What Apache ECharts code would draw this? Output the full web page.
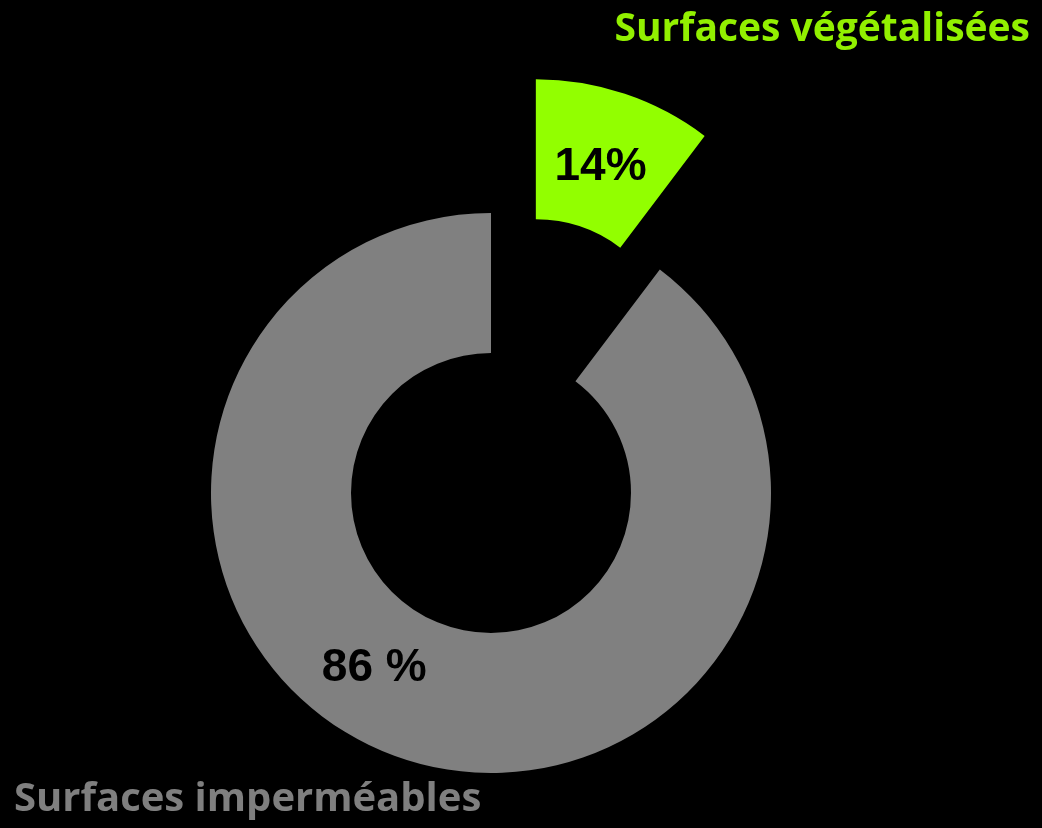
<!DOCTYPE html>
<html>
<head>
<meta charset="utf-8">
<script src="https://cdn.jsdelivr.net/npm/echarts@6/dist/echarts.min.js"></script>
<style>
  html, body { margin: 0; padding: 0; background: #000; }
  #chart { width: 1042px; height: 828px; }
</style>
</head>
<body>
<div id="chart"></div>
<script>
// slices as drawn (the green one is exploded out)
const categories = ['Surfaces végétalisées', 'Surfaces imperméables'];
const sliceValues = [10.3, 89.7];
const sliceLabels = ['14%', '86 %'];
const sliceColors = ['#92ff00', '#808080'];
const labelOffsets = [[-3, 10], [-49, -27]];

const chart = echarts.init(document.getElementById('chart'), null, { renderer: 'canvas' });

const labelFont = {
  fontFamily: '"Liberation Sans", Arial, sans-serif',
  fontWeight: 'bold',
  fontSize: 46,
  color: '#000'
};

const titleFont = {
  fontFamily: '"Open Sans", sans-serif',
  fontWeight: 'bold',
  fontSize: 39
};

chart.setOption({
  backgroundColor: '#000',
  animation: false,
  title: [
    {
      text: categories[0],
      right: 12,
      top: 10,
      padding: 0,
      textStyle: { ...titleFont, color: '#92f000' }
    },
    {
      text: categories[1],
      left: 14,
      bottom: 8,
      padding: 0,
      textStyle: { ...titleFont, fontSize: 40, color: '#7f7f7f' }
    }
  ],
  series: [
    {
      type: 'pie',
      center: [491, 493],
      radius: [140, 280],
      startAngle: 90,
      clockwise: true,
      selectedMode: 'single',
      selectedOffset: 141,
      emphasis: { disabled: true },
      labelLine: { show: false },
      data: categories.map((name, i) => ({
        name,
        value: sliceValues[i],
        selected: i === 0,
        itemStyle: { color: sliceColors[i] },
        label: {
          show: true,
          position: 'inside',
          formatter: sliceLabels[i],
          offset: labelOffsets[i],
          ...labelFont
        },
        select: {
          itemStyle: { color: sliceColors[i] },
          label: { offset: labelOffsets[i], ...labelFont }
        }
      }))
    }
  ]
});
</script>
</body>
</html>
